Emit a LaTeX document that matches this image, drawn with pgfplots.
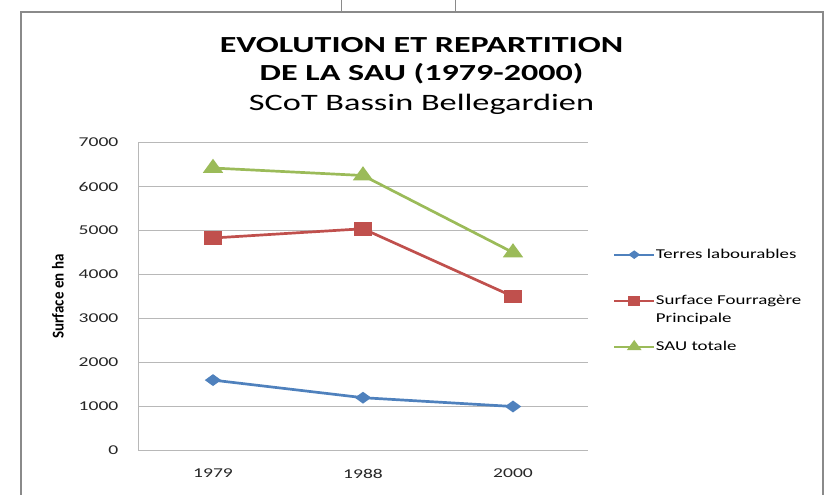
\documentclass[border=0pt]{standalone}
\usepackage{pgfplots}
\pgfplotsset{compat=1.18}
\usepackage{fontspec}
\setmainfont{Carlito}
\definecolor{cblue}{HTML}{4F81BD}
\definecolor{cred}{HTML}{C0504D}
\definecolor{cgreen}{HTML}{9BBB59}
\definecolor{frame}{HTML}{8A8A8A}
\definecolor{gridc}{HTML}{B8B8B8}
\begin{document}
\begin{tikzpicture}[x=1pt,y=1pt]
\path (0,0) rectangle (827,490);
\draw[frame,line width=2pt] (21,-2) -- (21,480) -- (823,480) -- (823,-2);
\draw[frame,line width=1pt] (341,492) -- (341,480) (455,492) -- (455,480);
\node[anchor=base, font=\fontsize{23}{25}\selectfont\bfseries, xscale=1.48, inner sep=0pt] at (421.5,440) {EVOLUTION ET REPARTITION};
\node[anchor=base, font=\fontsize{23}{25}\selectfont\bfseries, xscale=1.48, inner sep=0pt] at (421.5,412) {DE LA SAU (1979-2000)};
\node[anchor=base, font=\fontsize{23.5}{25}\selectfont, xscale=1.46, inner sep=0pt] at (421.5,382) {SCoT Bassin Bellegardien};
\begin{axis}[
  at={(138pt,42pt)}, anchor=south west,
  scale only axis, width=450pt, height=308pt,
  xmin=-0.5, xmax=2.5, ymin=0, ymax=7000,
  xtick={0,1,2}, xticklabels={1979,1988,2000},
  ytick={0,1000,...,7000},
  /pgf/number format/assume math mode=true,
  /pgf/number format/set thousands separator={},
  ymajorgrids, grid style={gridc, line width=1pt},
  axis x line*=bottom, axis y line*=left,
  axis line style={gridc, line width=1pt},
  major tick length=0pt,
  tick label style={font=\fontsize{13.5}{14}\selectfont, xscale=1.45, text=black!85},
  yticklabel style={xshift=-10pt},
  xticklabel style={yshift=-15pt},
  ylabel={Surface en ha},
  ylabel style={at={(axis description cs:-0.178,0.5)}, anchor=center, font=\fontsize{15}{16}\selectfont\bfseries, yscale=1.1},
  legend style={at={(axis description cs:1.0556,0.669)}, anchor=north west, draw=none, fill=none,
    font=\fontsize{13.5}{15}\selectfont, row sep=0pt, column sep=0pt, inner sep=0pt,
    cells={anchor=base west},
    nodes={text depth=, inner ysep=2pt, inner xsep=0.5pt, xscale=1.4}},
  legend image code/.code={\draw[mark repeat=2,mark phase=2,#1,line width=2pt,every mark/.append style={scale=0.72}] plot coordinates {(0pt,4pt)(20pt,4pt)(40pt,4pt)};},
  every axis plot/.append style={line width=2.7pt},
]
\addplot[cblue, mark=diamond*, mark size=4.5pt, mark options={solid, xscale=1.75, yscale=0.95}] coordinates {(0,1600) (1,1200) (2,1000)};
\addlegendentry{Terres labourables\rule[-30pt]{0pt}{42pt}}
\addplot[cred, mark=square*, mark size=5.5pt, mark options={solid, xscale=1.33}] coordinates {(0,4830) (1,5040) (2,3500)};
\addlegendentry{\begin{tabular}[t]{@{}l@{}}Surface Fourragère\rule{0pt}{12pt}\\[3pt]Principale\rule[-12pt]{0pt}{12pt}\end{tabular}}
\addplot[cgreen, mark=triangle*, mark size=7pt, mark options={solid, xscale=1.25}] coordinates {(0,6420) (1,6250) (2,4500)};
\addlegendentry{SAU totale\rule{0pt}{12pt}}
\end{axis}
\end{tikzpicture}
\end{document}
